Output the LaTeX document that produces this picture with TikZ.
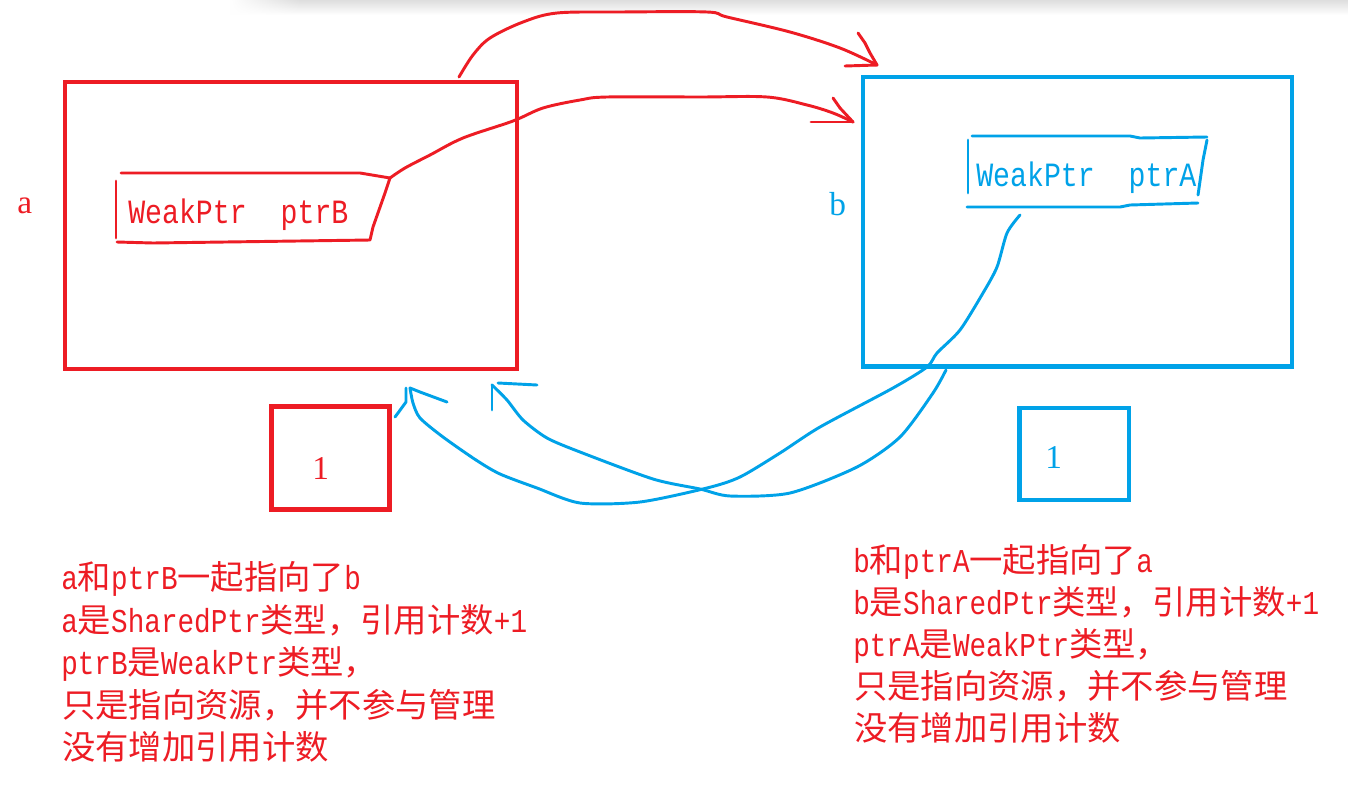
\documentclass[tikz,border=0pt]{standalone}
\usepackage{fontspec}
\usetikzlibrary{fadings}
\newfontfamily\cjk{Noto Sans CJK SC}
\newfontfamily\lmono[FakeStretch=0.83]{Liberation Mono}
\newfontfamily\lserif{Liberation Serif}
\definecolor{pred}{HTML}{ED1C24}
\definecolor{pblue}{HTML}{00A2E8}
\newcommand\mL[1]{{\lmono\fontsize{25pt}{25pt}\selectfont #1}}
\newcommand\cJ[1]{{\cjk\fontsize{25pt}{25pt}\selectfont #1}}
\begin{document}
\begin{tikzpicture}[x=0.75pt,y=-0.75pt]
\tikzset{
  box/.style={draw, line width=3.4pt, inner sep=0pt, outer sep=0pt},
  hand/.style={line width=2.2pt, line cap=round, line join=round},
  lbl/.style={inner sep=0pt, anchor=base west, font=\lserif\fontsize{25pt}{25pt}\selectfont},
  para/.style={inner sep=0pt, anchor=base west, pred},
  ptrtext/.style={inner sep=0pt, anchor=base west, font=\lmono\fontsize{25.5pt}{25pt}\selectfont},
}
\useasboundingbox (0,0) rectangle (1348,786);
\fill[white] (0,0) rectangle (1348,786);
\shade[top color=black!13, bottom color=white] (300,0) rectangle (1348,15);
\shade[top color=black!13, bottom color=white, path fading=west] (230,0) rectangle (300.5,15);

% main boxes
\node[box, pred, minimum width=339pt, minimum height=215.25pt] (A) at (291,225.5) {};
\node[box, pblue, minimum width=321.75pt, minimum height=217.1pt] (B) at (1077.5,221.75) {};
% counter boxes
\node[box, pred, minimum width=88.5pt, minimum height=77.25pt] (cA) at (330.5,458) {};
\node[box, pblue, minimum width=82pt, minimum height=69pt] (cB) at (1074.3,454) {};

% labels
\node[lbl, pred] (la) at (17,213) {a};
\node[lbl, pblue] (lb) at (829,215) {b};
\node[lbl, pred] (na) at (312,479) {1};
\node[lbl, pblue] (nb) at (1045,468) {1};

% inner pointer fields
\node[ptrtext, pred] (pB) at (128,223) {WeakPtr\ \ ptrB};
\node[ptrtext, pblue] (pA) at (976,186) {WeakPtr\ \ ptrA};

\draw[hand, pred] (116,181) -- (116,238);
\draw[hand, pred] (117,242) -- (153,243) -- (370,240) -- (373,227) -- (385,193) -- (390,178) -- (360,173) -- (121,173);

\draw[hand, pblue] (972,136) -- (1130,136) -- (1140,138) -- (1207,137);
\draw[hand, pblue] (968,140) -- (968,193);
\draw[hand, pblue] (1207,140) -- (1203,160) -- (1198,195);
\draw[hand, pblue] (967,207) -- (1120,207) -- (1130,205) -- (1198,203);

% connector end points
\coordinate (t1s) at (459,77);
\coordinate (t1e) at (877,65);
\coordinate (t2s) at (390,178);
\coordinate (t2e) at (853,122);
\coordinate (bAs) at (1020,215);
\coordinate (bAe) at (410,388);
\coordinate (bBs) at (946,370);
\coordinate (bBe) at (492,385);

% red arrows: a -> b, ptrB -> b
\draw[hand, pred] plot[smooth, tension=0.55] coordinates {(t1s) (473,55) (490,38) (523,22) (557,13) (620,12) (707,12) (727,17) (790,32) (840,48) (t1e)};
\draw[hand, pred] (t1e) -- (845,66);
\draw[hand, pred] (t1e) -- (870,53) -- (865,43) -- (858,33);

\draw[hand, pred] plot[smooth, tension=0.55] coordinates {(t2s) (405,168) (430,155) (463,138) (513,121) (543,108) (580,100) (607,97) (700,97) (767,97) (807,105) (833,113) (t2e)};
\draw[hand, pred] (t2e) -- (811,122);
\draw[hand, pred] (t2e) -- (840,108) -- (833,98);

% blue arrows: ptrA -> a, b -> a
\draw[hand, pblue] plot[smooth, tension=0.45] coordinates {(bAs) (1007,233) (997,267) (983,293) (960,330) (937,353) (927,367) (893,388) (820,427) (780,453) (740,477) (707,488) (640,502) (580,503) (537,488) (500,474) (476,460) (443,437) (420,418) (413,403) (bAe)};
\draw[hand, pblue] (bAe) -- (420,392) -- (447,402);
\draw[hand, pblue] (406,388) -- (406,402) -- (398,413) -- (395,417);

\draw[hand, pblue] plot[smooth, tension=0.45] coordinates {(bBs) (933,393) (900,437) (857,467) (790,493) (730,496) (700,489) (653,479) (580,452) (547,438) (523,420) (507,400) (bBe)};
\draw[hand, pblue] (bBe) -- (492,410);
\draw[hand, pblue] (498,383) -- (537,385);

% explanations
\node[para] (l1) at (61,589) {\mL{a}\cJ{和}\mL{ptrB}\cJ{一起指向了}\mL{b}};
\node[para] (l2) at (61,632) {\mL{a}\cJ{是}\mL{SharedPtr}\cJ{类型，引用计数}\mL{+1}};
\node[para] (l3) at (61,674) {\mL{ptrB}\cJ{是}\mL{WeakPtr}\cJ{类型，}};
\node[para] (l4) at (62,717) {\cJ{只是指向资源，并不参与管理}};
\node[para] (l5) at (62,759) {\cJ{没有增加引用计数}};

\node[para] (r1) at (853,572) {\mL{b}\cJ{和}\mL{ptrA}\cJ{一起指向了}\mL{a}};
\node[para] (r2) at (853,614) {\mL{b}\cJ{是}\mL{SharedPtr}\cJ{类型，引用计数}\mL{+1}};
\node[para] (r3) at (853,656) {\mL{ptrA}\cJ{是}\mL{WeakPtr}\cJ{类型，}};
\node[para] (r4) at (854,698) {\cJ{只是指向资源，并不参与管理}};
\node[para] (r5) at (854,740) {\cJ{没有增加引用计数}};
\end{tikzpicture}
\end{document}
